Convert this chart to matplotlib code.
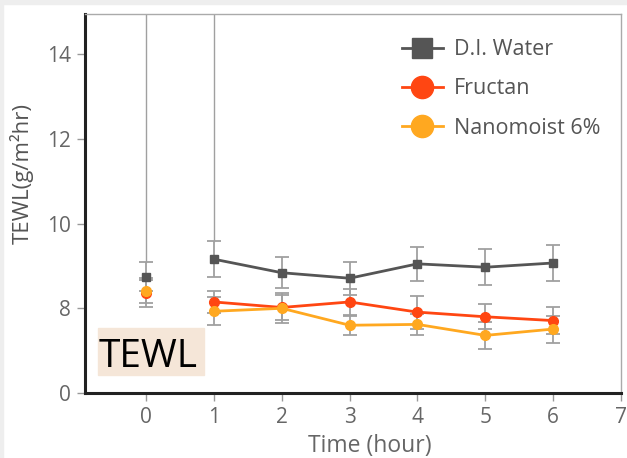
import matplotlib
matplotlib.use("Agg")
import matplotlib.pyplot as plt
from matplotlib.patches import Rectangle

plt.rcParams['font.family'] = ['Open Sans', 'DejaVu Sans']

time = [0, 1, 2, 3, 4, 5, 6]
water = [8.75, 9.16, 8.84, 8.71, 9.05, 8.97, 9.07]
water_err = [0.34, 0.43, 0.36, 0.39, 0.40, 0.42, 0.42]
fructan = [8.35, 8.15, 8.02, 8.15, 7.91, 7.80, 7.71]
fructan_err = [0.32, 0.25, 0.30, 0.31, 0.39, 0.30, 0.32]
nano = [8.42, 7.93, 8.00, 7.60, 7.62, 7.36, 7.51]
nano_err = [0.30, 0.33, 0.35, 0.22, 0.25, 0.31, 0.32]
labels = ['D.I. Water', 'Fructan', 'Nanomoist 6%']
ytick_pos = [6, 8, 10, 12, 14]
ytick_lab = ['0', '8', '10', '12', '14']
xticks = [0, 1, 2, 3, 4, 5, 6, 7]

W, H = 627, 458
fig = plt.figure(figsize=(W / 100, H / 100), dpi=100)
ax = fig.add_axes([85/W, 65/H, 536/W, 379/H])

# thin light border strips of the original screenshot
fig.patches.append(Rectangle((0, 1 - 4/H), 1, 4/H, transform=fig.transFigure,
                             color='#eeeeee', zorder=0))
fig.patches.append(Rectangle((0, 0), 3/W, 1, transform=fig.transFigure,
                             color='#eeeeee', zorder=0))

ecol = '#a0a0a0'
# vertical gray lines at hours 0 and 1
for t, v, e in zip(time[:2], water[:2], water_err[:2]):
    ax.plot([t, t], [v + e, 15.2], color=ecol, lw=1, zorder=1)

series = [
    (water, water_err, '#555555', 's', 6),
    (fructan, fructan_err, '#ff4612', 'o', 7),
    (nano, nano_err, '#ffa820', 'o', 7),
]
lsizes = [14, 16, 16]
handles = []
for (vals, errs, col, mk, ms), lab, lms in zip(series, labels, lsizes):
    ax.errorbar(time, vals, yerr=errs, fmt='none', ecolor=ecol, elinewidth=1.3,
                capsize=5, capthick=1.3, zorder=2)
    ax.plot(time[1:], vals[1:], color=col, lw=2, zorder=3)
    ax.plot(time, vals, color=col, lw=0, marker=mk, ms=ms, zorder=4)
    hl, = ax.plot([], [], color=col, lw=2, marker=mk, ms=lms, label=lab)
    handles.append(hl)

ax.set_xlim(-0.9, 7)
ax.set_ylim(6, 14.95)
ax.set_xticks(xticks)
ax.set_yticks(ytick_pos)
ax.set_yticklabels(ytick_lab)
ax.tick_params(axis='both', colors='#999999', labelcolor='#666666',
               labelsize=15, length=6, width=1)
ax.tick_params(axis='x', pad=4)
ax.tick_params(axis='y', pad=4)

for s in ['left', 'bottom']:
    ax.spines[s].set_color('#222222')
    ax.spines[s].set_linewidth(2.2)
for s in ['top', 'right']:
    ax.spines[s].set_color('#aaaaaa')
    ax.spines[s].set_linewidth(1)

ax.set_xlabel('Time (hour)', fontsize=16.5, color='#666666')
ax.xaxis.set_label_coords((370 - 85) / 536, -(446 - 393) / 379)
ax.xaxis.label.set_va('center')
ax.set_ylabel('TEWL(g/m²hr)', fontsize=16, color='#555555')
ax.yaxis.set_label_coords((22 - 85) / 536, (393 - 173) / 379)
ax.yaxis.label.set_va('center')

leg = ax.legend(handles=handles, loc='upper left', frameon=False, fontsize=15.5,
                handlelength=1.9, handletextpad=0.5, labelspacing=0.85,
                bbox_to_anchor=(0.555, 0.985))
for t in leg.get_texts():
    t.set_color('#555555')

# highlighted "TEWL" label box
fig.patches.append(Rectangle((98/W, 1 - 375/H), 106/W, 47/H, transform=fig.transFigure,
                             color='#f5e6d8', zorder=5))
fig.text(99/W, 1 - 367/H, 'TEWL', fontsize=28, color='black',
         ha='left', va='baseline', zorder=6)

fig.savefig('out.png', dpi=100)
